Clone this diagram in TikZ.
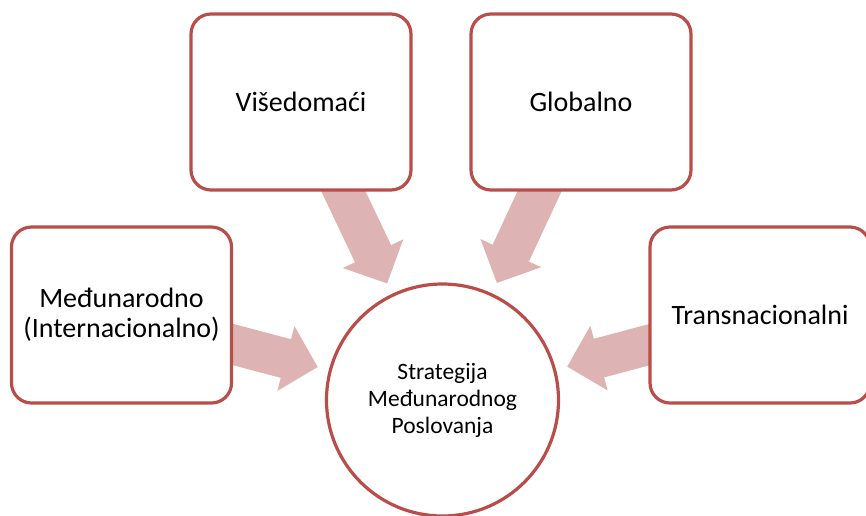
\documentclass[tikz,border=0pt]{standalone}
\usepackage{fontspec}
\setmainfont{Carlito}
\usetikzlibrary{arrows.meta,calc,backgrounds}
\definecolor{edgered}{RGB}{185,77,74}
\definecolor{arrowfill}{RGB}{221,179,179}
\begin{document}
\begin{tikzpicture}[x=1pt,y=-1pt,
  box/.style={draw=edgered, line width=3.2pt, fill=white, rounded corners=20pt,
    minimum width=220pt, minimum height=176pt, align=center, inner sep=0pt,
    font=\fontsize{28}{30}\selectfont},
  hub/.style={circle, draw=edgered, line width=3.2pt, fill=white, minimum size=232pt,
    align=center, inner sep=0pt, font=\fontsize{23.5}{27}\selectfont},
  blockarrow/.style={draw=arrowfill, line width=40pt,
    -{Triangle[width=65pt,length=33pt]}}]
\useasboundingbox (0,0) rectangle (866,515);
\node[hub] (c) at (442.5,400) {Strategija\\Međunarodnog\\Poslovanja};
\node[box] (v) at (301,102) {Višedomaći};
\node[box] (g) at (581,102) {Globalno};
\node[box] (m) at (121.5,315) {Međunarodno\\(Internacionalno)};
\node[box] (t) at (760,315) {Transnacionalni};
\begin{scope}[on background layer]
  \draw[blockarrow] (v.center) -- ($(c.center)!129pt!(v.center)$);
  \draw[blockarrow] (g.center) -- ($(c.center)!129pt!(g.center)$);
  \draw[blockarrow] (m.center) -- ($(c.center)!129pt!(m.center)$);
  \draw[blockarrow] (t.center) -- ($(c.center)!129pt!(t.center)$);
\end{scope}
\end{tikzpicture}
\end{document}
